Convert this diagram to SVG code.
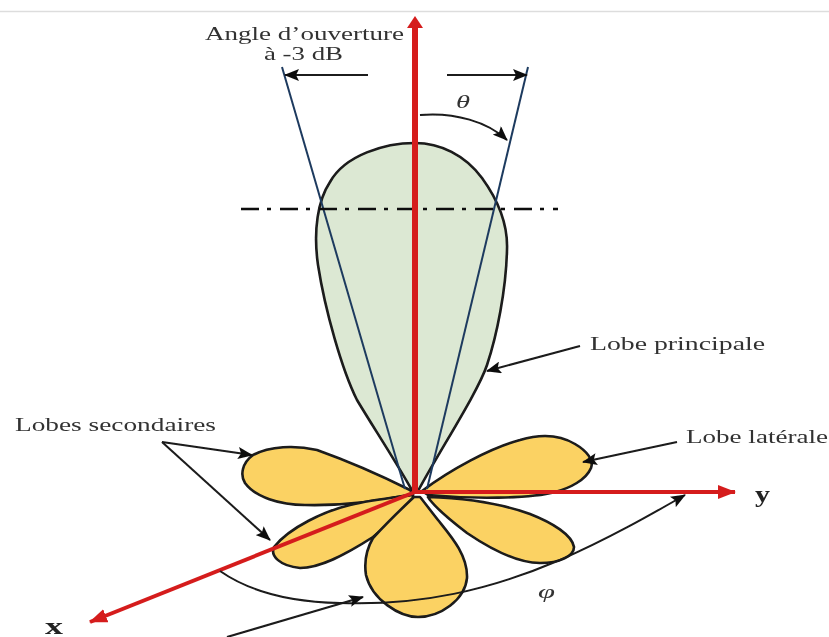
<svg xmlns="http://www.w3.org/2000/svg" width="829" height="637" viewBox="0 0 829 637">
<style>
.lobe{stroke:#1a1a1a;stroke-width:2.600;stroke-linejoin:round}
.sec{fill:#fbd264}
.thin{fill:none;stroke:#1a1a1a;stroke-width:2}
.blue{fill:none;stroke:#1f3a5f;stroke-width:2}
.axis{fill:none;stroke:#d51f1f;stroke-width:4}
.t{font-family:"Liberation Serif",serif;font-size:18px;fill:#333}
.b{font-family:"Liberation Serif",serif;font-size:23px;font-weight:bold;fill:#222}
.g{font-family:"Liberation Serif",serif;font-size:18px;font-style:italic;fill:#333}
</style>
<defs>
<marker id="ah" markerUnits="userSpaceOnUse" markerWidth="16" markerHeight="12" refX="14" refY="6" orient="auto"><path d="M0 0L15 6L0 12L3 6Z" fill="#111"/></marker>
<marker id="red" markerUnits="userSpaceOnUse" markerWidth="18" markerHeight="14" refX="17" refY="7" orient="auto"><path d="M0 0L18 7L0 14Z" fill="#d51f1f"/></marker>
<filter id="soft" x="0" y="0" width="100%" height="100%"><feGaussianBlur stdDeviation="0.600"/></filter>
</defs>
<rect width="829" height="637" fill="#fff"/>
<line x1="0" y1="11.500" x2="829" y2="11.500" stroke="#ddd" stroke-width="1.500"/>
<g filter="url(#soft)">
<g id="lobe-principale"><path class="lobe" fill="#dce8d3" d="M413 492C395 460 375 430 357 400C342 370 325 310 318 265C313 230 318 200 330 182C345 155 385 143 415 143C440 143 465 155 482 178C498 200 508 225 507 250C506 290 497 335 487 365C478 392 440 450 418 491Z"/></g>
<g id="lobe-haut-gauche"><path class="lobe sec" d="M410 490C380 475 345 460 317 450C295 445 270 446 253 455C242 463 240 475 245 483C255 497 280 505 305 505C345 506 385 500 413 494Z"/></g>
<g id="lobe-bas-gauche"><path class="lobe sec" d="M413 495C390 498 370 500 350 505C325 511 290 527 274 547C270 556 280 566 300 568C320 568 345 555 373 537C388 525 402 510 413 498Z"/></g>
<g id="lobe-bas"><path class="lobe sec" d="M414 497C398 512 385 525 373 538C366 550 364 562 366 575C372 600 400 617 418 617C440 617 465 600 467 578C468 555 450 535 438 520C430 510 425 503 420 497Z"/></g>
<g id="lobe-haut-droit"><path class="lobe sec" d="M422 491C450 470 490 448 520 440C540 434 560 435 575 444C587 451 594 460 591 468C586 480 570 488 555 492C530 499 470 499 428 495Z"/></g>
<g id="lobe-bas-droit"><path class="lobe sec" d="M428 497C460 498 500 503 530 514C553 523 572 535 574 547C574 556 560 563 540 563C520 563 495 552 467 533C450 520 438 510 430 500Z"/></g>
<g id="connectors">
<line class="blue" x1="282" y1="67" x2="405" y2="489"/>
<line class="blue" x1="528" y1="67" x2="427" y2="489"/>
<line x1="241" y1="209" x2="558" y2="209" fill="none" stroke="#111" stroke-width="2.500" stroke-dasharray="18 8 4 9"/>
<line class="axis" style="stroke-width:6" x1="415" y1="493" x2="415" y2="28"/>
<path d="M407 28L415 16L423 28Z" fill="#d51f1f"/>
<line class="axis" x1="415" y1="492" x2="735" y2="492" marker-end="url(#red)"/>
<line class="axis" x1="415" y1="492" x2="90" y2="622" marker-end="url(#red)"/>
<line class="thin" x1="368" y1="75" x2="285" y2="75" marker-end="url(#ah)"/>
<line class="thin" x1="447" y1="75" x2="527" y2="75" marker-end="url(#ah)"/>
<path class="thin" d="M420 115C455 112 488 122 507 140" marker-end="url(#ah)"/>
<path class="thin" d="M220 571C250 592 290 602 340 603C420 606 490 590 560 560C610 538 650 515 685 495" marker-end="url(#ah)"/>
<line class="thin" x1="227" y1="637" x2="363" y2="597" marker-end="url(#ah)"/>
<path class="thin" d="M162 442L252 455" marker-end="url(#ah)"/>
<path class="thin" d="M162 442L270 540" marker-end="url(#ah)"/>
<line class="thin" x1="580" y1="346" x2="487" y2="371" marker-end="url(#ah)"/>
<line class="thin" x1="677" y1="442" x2="583" y2="462" marker-end="url(#ah)"/>
</g>
<text class="t" x="205" y="40" textLength="199" lengthAdjust="spacingAndGlyphs">Angle d’ouverture</text>
<text class="t" x="264" y="60" textLength="79" lengthAdjust="spacingAndGlyphs">à -3 dB</text>
<text class="g" x="456" y="108" textLength="14" lengthAdjust="spacingAndGlyphs">θ</text>
<text class="t" x="590" y="350" textLength="175" lengthAdjust="spacingAndGlyphs">Lobe principale</text>
<text class="t" x="15" y="431" textLength="201" lengthAdjust="spacingAndGlyphs">Lobes secondaires</text>
<text class="t" x="686" y="443" textLength="142" lengthAdjust="spacingAndGlyphs">Lobe latérale</text>
<text class="b" x="755" y="502" textLength="15" lengthAdjust="spacingAndGlyphs">y</text>
<text class="b" x="45" y="634" textLength="18" lengthAdjust="spacingAndGlyphs">x</text>
<text class="g" x="538" y="598" textLength="17" lengthAdjust="spacingAndGlyphs">φ</text>
</g>
</svg>
